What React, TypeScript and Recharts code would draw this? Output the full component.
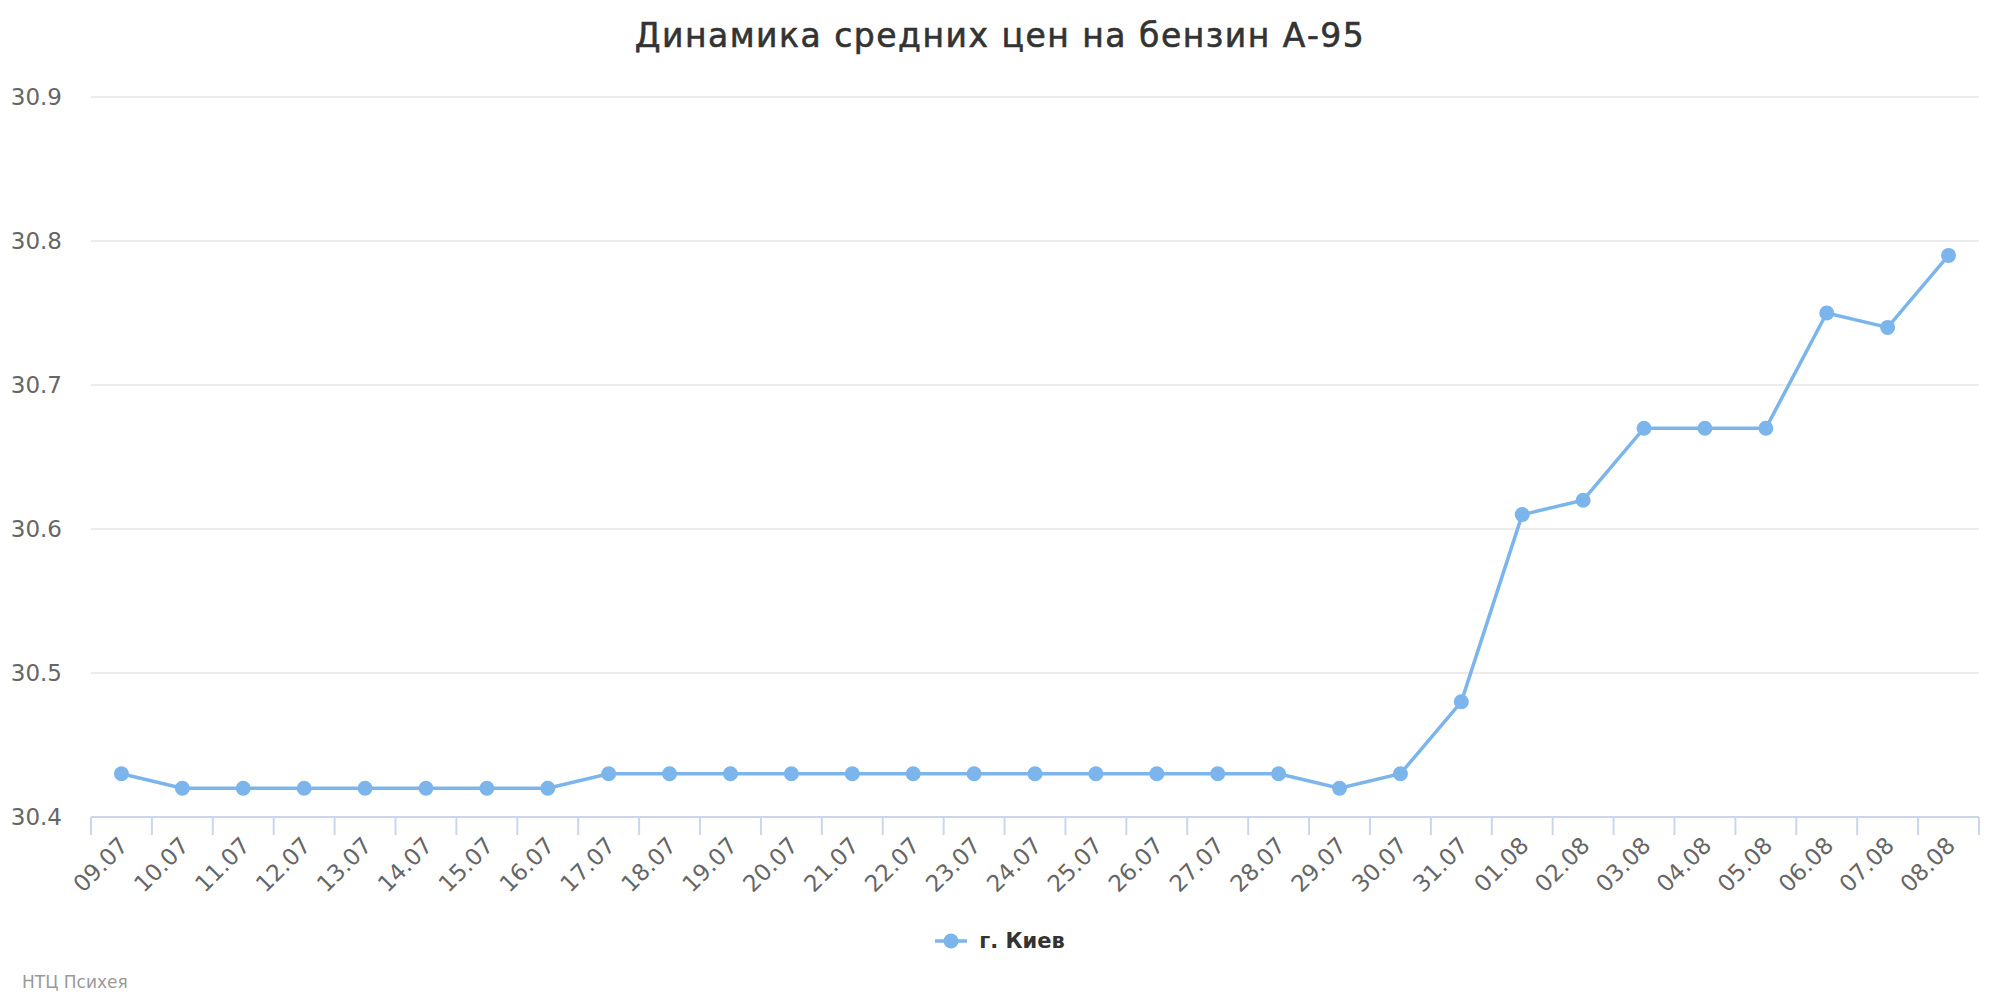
import { CartesianGrid, Line, LineChart, XAxis, YAxis } from "recharts";

const dates = [
  "09.07", "10.07", "11.07", "12.07", "13.07", "14.07", "15.07", "16.07",
  "17.07", "18.07", "19.07", "20.07", "21.07", "22.07", "23.07", "24.07",
  "25.07", "26.07", "27.07", "28.07", "29.07", "30.07", "31.07",
  "01.08", "02.08", "03.08", "04.08", "05.08", "06.08", "07.08", "08.08",
];

const kievPrices = [
  30.43, 30.42, 30.42, 30.42, 30.42, 30.42, 30.42, 30.42,
  30.43, 30.43, 30.43, 30.43, 30.43, 30.43, 30.43, 30.43,
  30.43, 30.43, 30.43, 30.43, 30.42, 30.43, 30.48,
  30.61, 30.62, 30.67, 30.67, 30.67, 30.75, 30.74, 30.79,
];

const yTicks = [30.4, 30.5, 30.6, 30.7, 30.8, 30.9];

const data = dates.map((date, i) => ({ date, kiev: kievPrices[i] }));

const CHART_W = 2000;
const CHART_H = 1000;
const PLOT_LEFT = 91;
const PLOT_RIGHT = 21;
const PLOT_W = CHART_W - PLOT_LEFT - PLOT_RIGHT;
const BAND = PLOT_W / dates.length;

const COLOR = "#7cb5ec";
const FONT = "'DejaVu Sans', sans-serif";

function DateTick(props: any) {
  const { x, y, payload, index } = props;
  const half = BAND / 2;
  return (
    <g transform={`translate(${x},${y})`}>
      <line x1={-half} y1={0} x2={-half} y2={18} stroke="#ccd6eb" strokeWidth={2} />
      {index === dates.length - 1 && (
        <line x1={half} y1={0} x2={half} y2={18} stroke="#ccd6eb" strokeWidth={2} />
      )}
      <text
        x={8}
        y={30}
        transform="rotate(-45 8 30)"
        textAnchor="end"
        fill="#666"
        fontSize={23}
        fontFamily={FONT}
      >
        {payload.value}
      </text>
    </g>
  );
}

export default function App() {
  return (
    <div
      style={{
        position: "absolute",
        top: 0,
        left: 0,
        width: CHART_W,
        height: CHART_H,
        background: "#fff",
        fontFamily: FONT,
      }}
    >
      <div
        style={{
          position: "absolute",
          top: 16,
          left: 0,
          width: CHART_W,
          textAlign: "center",
          fontSize: 33,
          fontWeight: 500,
          letterSpacing: 1.5,
          color: "#333",
          fontFamily: FONT,
          WebkitTextStroke: "0.6px #333",
        }}
      >
        Динамика средних цен на бензин А-95
      </div>

      <LineChart
        width={CHART_W}
        height={CHART_H}
        data={data}
        margin={{ top: 97, right: PLOT_RIGHT, bottom: 0, left: 0 }}
      >
        <CartesianGrid vertical={false} stroke="#e6e6e6" strokeWidth={1.5} />
        <XAxis
          dataKey="date"
          interval={0}
          height={183}
          padding={{ left: BAND / 2, right: BAND / 2 }}
          axisLine={{ stroke: "#ccd6eb", strokeWidth: 2 }}
          tickLine={false}
          tickSize={0}
          tickMargin={0}
          tick={<DateTick />}
        />
        <YAxis
          width={PLOT_LEFT}
          domain={[30.4, 30.9]}
          ticks={yTicks}
          axisLine={false}
          tickLine={false}
          tickSize={0}
          tickMargin={29}
          tickFormatter={(v: number) => v.toFixed(1)}
          tick={{ fill: "#666", fontSize: 23, fontFamily: FONT }}
        />
        <Line
          type="linear"
          dataKey="kiev"
          stroke={COLOR}
          strokeWidth={3.5}
          dot={{ r: 7.5, fill: COLOR, stroke: "none" }}
          activeDot={false}
          isAnimationActive={false}
        />
      </LineChart>

      <div
        style={{
          position: "absolute",
          top: 929,
          left: 0,
          width: CHART_W,
          display: "flex",
          justifyContent: "center",
          alignItems: "center",
          gap: 12,
        }}
      >
        <svg width={32} height={16}>
          <line x1={0} y1={8} x2={32} y2={8} stroke={COLOR} strokeWidth={3.5} />
          <circle cx={16} cy={8} r={7.5} fill={COLOR} />
        </svg>
        <span style={{ fontSize: 21, fontWeight: "bold", color: "#333" }}>г. Киев</span>
      </div>

      <div
        style={{
          position: "absolute",
          top: 972,
          left: 22,
          fontSize: 17,
          color: "#999",
        }}
      >
        НТЦ Психея
      </div>
    </div>
  );
}
